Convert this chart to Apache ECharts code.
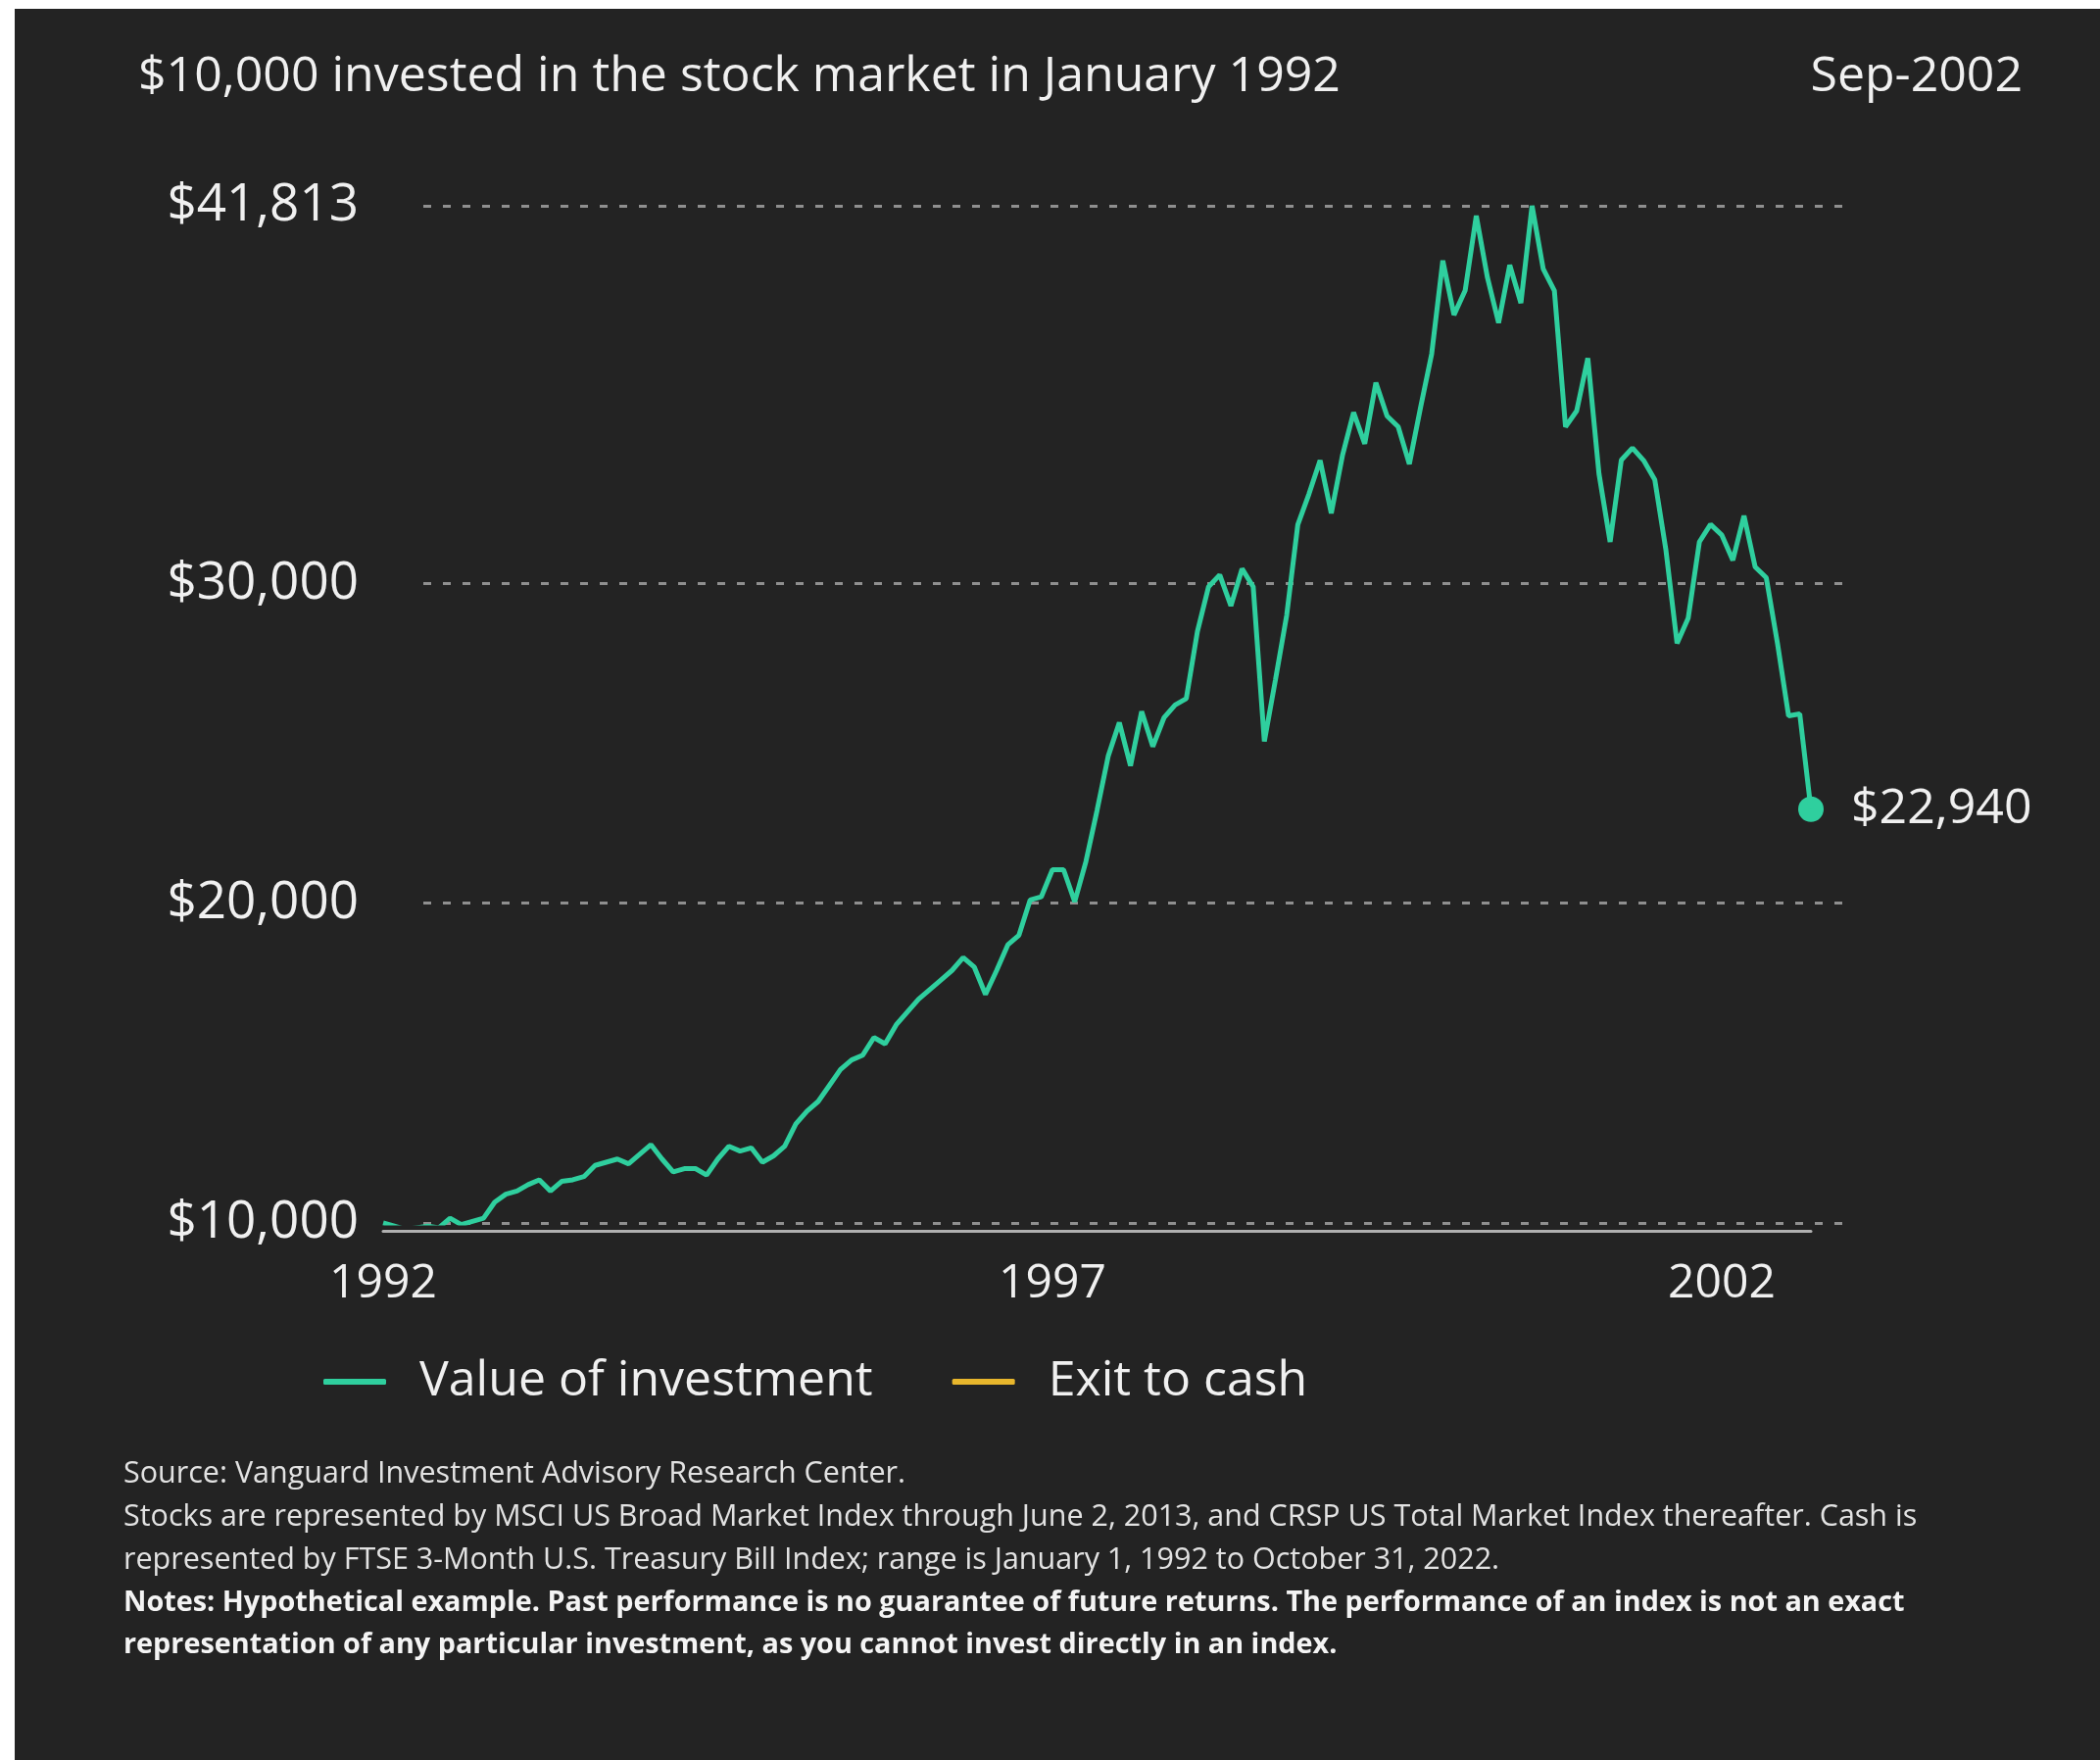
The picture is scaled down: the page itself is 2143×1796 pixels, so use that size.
<!DOCTYPE html>
<html>
<head>
	<title>$10,000 invested</title>
	<meta charset="utf-8" />
	<script type="text/javascript" src="https://cdn.jsdelivr.net/npm/echarts@6.0.0/dist/echarts.min.js"></script>
	<style type="text/css">
		body{ margin:0; background:#fff; }
		#container{
			width: 2143px;
			height: 1796px;
		}
	</style>
</head>
<body>
<div id="container"></div>
</body>

<script type="text/javascript">
	// monthly value of $10,000, Jan 1992 .. Sep 2002
	var values = [
		10000, 9900, 9800, 9850, 9900, 9850, 10150, 9950, 10050, 10150,
		10650, 10900, 11000, 11200, 11350, 11000, 11300, 11350, 11450, 11800,
		11900, 12000, 11850, 12150, 12450, 12000, 11600, 11700, 11700, 11500,
		12000, 12400, 12250, 12350, 11900, 12100, 12400, 13100, 13500, 13800,
		14300, 14800, 15100, 15250, 15800, 15600, 16200, 16600, 17000, 17300,
		17600, 17900, 18300, 18000, 17150, 17900, 18700, 19000, 20100, 20200,
		21050, 21050, 20050, 21300, 22900, 24600, 25650, 24300, 26000, 24900,
		25800, 26200, 26400, 28500, 29900, 30270, 29300, 30460, 29900, 25060,
		27000, 29000, 31840, 32800, 33850, 32200, 34000, 35350, 34370, 36280,
		35240, 34900, 33740, 35500, 37180, 40100, 38400, 39160, 41500, 39570,
		38150, 39960, 38770, 41813, 39840, 39160, 34900, 35400, 37050, 33430,
		31300, 33860, 34240, 33850, 33250, 31050, 28130, 28920, 31300, 31850,
		31520, 30730, 32120, 30520, 30180, 28130, 25860, 25920, 22940
	];
	var cashValues = [];
	var startYear = 1992;
	var xTickLabels = ['1992', '1997', '2002'];
	var yTickValues = [10000, 20000, 30000, 41813];
	var seriesNames = ['Value of investment', 'Exit to cash'];
	var footLines = [
		'Source: Vanguard Investment Advisory Research Center.',
		'Stocks are represented by MSCI US Broad Market Index through June 2, 2013, and CRSP US Total Market Index thereafter. Cash is',
		'represented by FTSE 3-Month U.S. Treasury Bill Index; range is January 1, 1992 to October 31, 2022.'
	];
	var noteLines = [
		'Notes: Hypothetical example. Past performance is no guarantee of future returns. The performance of an index is not an exact',
		'representation of any particular investment, as you cannot invest directly in an index.'
	];

	var months = [];
	for (var i = 0; i < values.length; i++) {
		var y = startYear + Math.floor(i / 12);
		var m = i % 12 + 1;
		months.push(y + '-' + (m < 10 ? '0' + m : m));
	}

	var TEAL = '#2fcf9e';
	var GOLD = '#e8b62c';
	var FONT = 'Open Sans';

	function money(v) {
		return '$' + Math.round(v).toLocaleString('en-US');
	}

	var chart = echarts.init(document.getElementById('container'));

	var graphics = [
		{ type: 'rect', shape: { x: 0, y: 0, width: 15, height: 1796 }, style: { fill: '#fff' } },
		{ type: 'rect', shape: { x: 0, y: 0, width: 2143, height: 9 }, style: { fill: '#fff' } }
	];
	footLines.forEach(function(t, k){
		graphics.push({ type: 'text', x: 126, y: 1504 + k * 44,
			style: { text: t, font: '30.5px "' + FONT + '"', fill: '#e2e2e2', verticalAlign: 'middle' } });
	});
	noteLines.forEach(function(t, k){
		graphics.push({ type: 'text', x: 126, y: 1636 + k * 43,
			style: { text: t, font: 'bold 28.8px "' + FONT + '"', fill: '#f4f4f4', verticalAlign: 'middle' } });
	});

	var options = {
		backgroundColor: '#232323',
		animation: false,
		textStyle: { fontFamily: FONT },

		title: [
			{
				text: '$10,000 invested in the stock market in January 1992',
				left: 141, top: 54, padding: 0,
				textStyle: { color: '#f0f0f0', fontSize: 50, fontWeight: 'normal', fontFamily: FONT }
			},
			{
				text: 'Sep-2002',
				right: 79, top: 54, padding: 0,
				textStyle: { color: '#f0f0f0', fontSize: 50, fontWeight: 'normal', fontFamily: FONT }
			}
		],

		legend: {
			left: 330, top: 1385, padding: 0,
			itemWidth: 64, itemHeight: 6, itemGap: 81,
			icon: 'roundRect',
			data: seriesNames,
			textStyle: { color: '#f0f0f0', fontSize: 50, fontFamily: FONT, padding: [0, 0, 0, 29] }
		},

		// grid 0: the line and the solid time axis; grid 1: dotted grid lines and y labels
		grid: [
			{ left: 391, right: 295, top: 210, bottom: 548 },
			{ left: 432, right: 257, top: 210, bottom: 548 }
		],

		xAxis: [
			{
				gridIndex: 0, type: 'category', data: months, boundaryGap: false,
				offset: 8,
				axisLine: { show: true, lineStyle: { color: '#b0b0b0', width: 3 } },
				axisTick: { show: false },
				splitLine: { show: false },
				axisLabel: {
					color: '#f0f0f0', fontSize: 48, fontFamily: FONT, margin: 30,
					interval: function(idx, val){
						return val.slice(5) === '01' && xTickLabels.indexOf(val.slice(0, 4)) >= 0;
					},
					formatter: function(val){ return val.slice(0, 4); }
				}
			},
			{ gridIndex: 1, type: 'value', min: 0, max: 1, show: false }
		],

		yAxis: [
			{ gridIndex: 0, type: 'value', min: 10000, max: 41813, show: false },
			{
				gridIndex: 1, type: 'value', min: 10000, max: 41813,
				axisLine: { show: false },
				axisTick: { show: false, customValues: yTickValues },
				axisLabel: {
					customValues: yTickValues,
					color: '#f0f0f0', fontSize: 53, fontFamily: FONT, margin: 66,
					formatter: money
				},
				splitLine: { show: true, lineStyle: { color: '#8f8f8f', width: 3, type: [8, 12] } }
			}
		],

		series: [
			{
				name: seriesNames[0], type: 'line',
				xAxisIndex: 0, yAxisIndex: 0,
				data: values,
				showSymbol: false,
				lineStyle: { color: TEAL, width: 5 },
				itemStyle: { color: TEAL },
				z: 5,
				markPoint: {
					symbol: 'circle', symbolSize: 26,
					itemStyle: { color: TEAL },
					label: {
						show: true, position: 'right', distance: 28,
						color: '#f0f0f0', fontSize: 50, fontFamily: FONT,
						formatter: function(p){ return money(p.value); }
					},
					data: [{ coord: [months[months.length - 1], values[values.length - 1]], value: values[values.length - 1] }]
				}
			},
			{
				name: seriesNames[1], type: 'line',
				xAxisIndex: 0, yAxisIndex: 0,
				data: cashValues,
				showSymbol: false,
				lineStyle: { color: GOLD, width: 5 },
				itemStyle: { color: GOLD }
			}
		],

		graphic: graphics
	};

	chart.setOption(options);
</script>

</html>
